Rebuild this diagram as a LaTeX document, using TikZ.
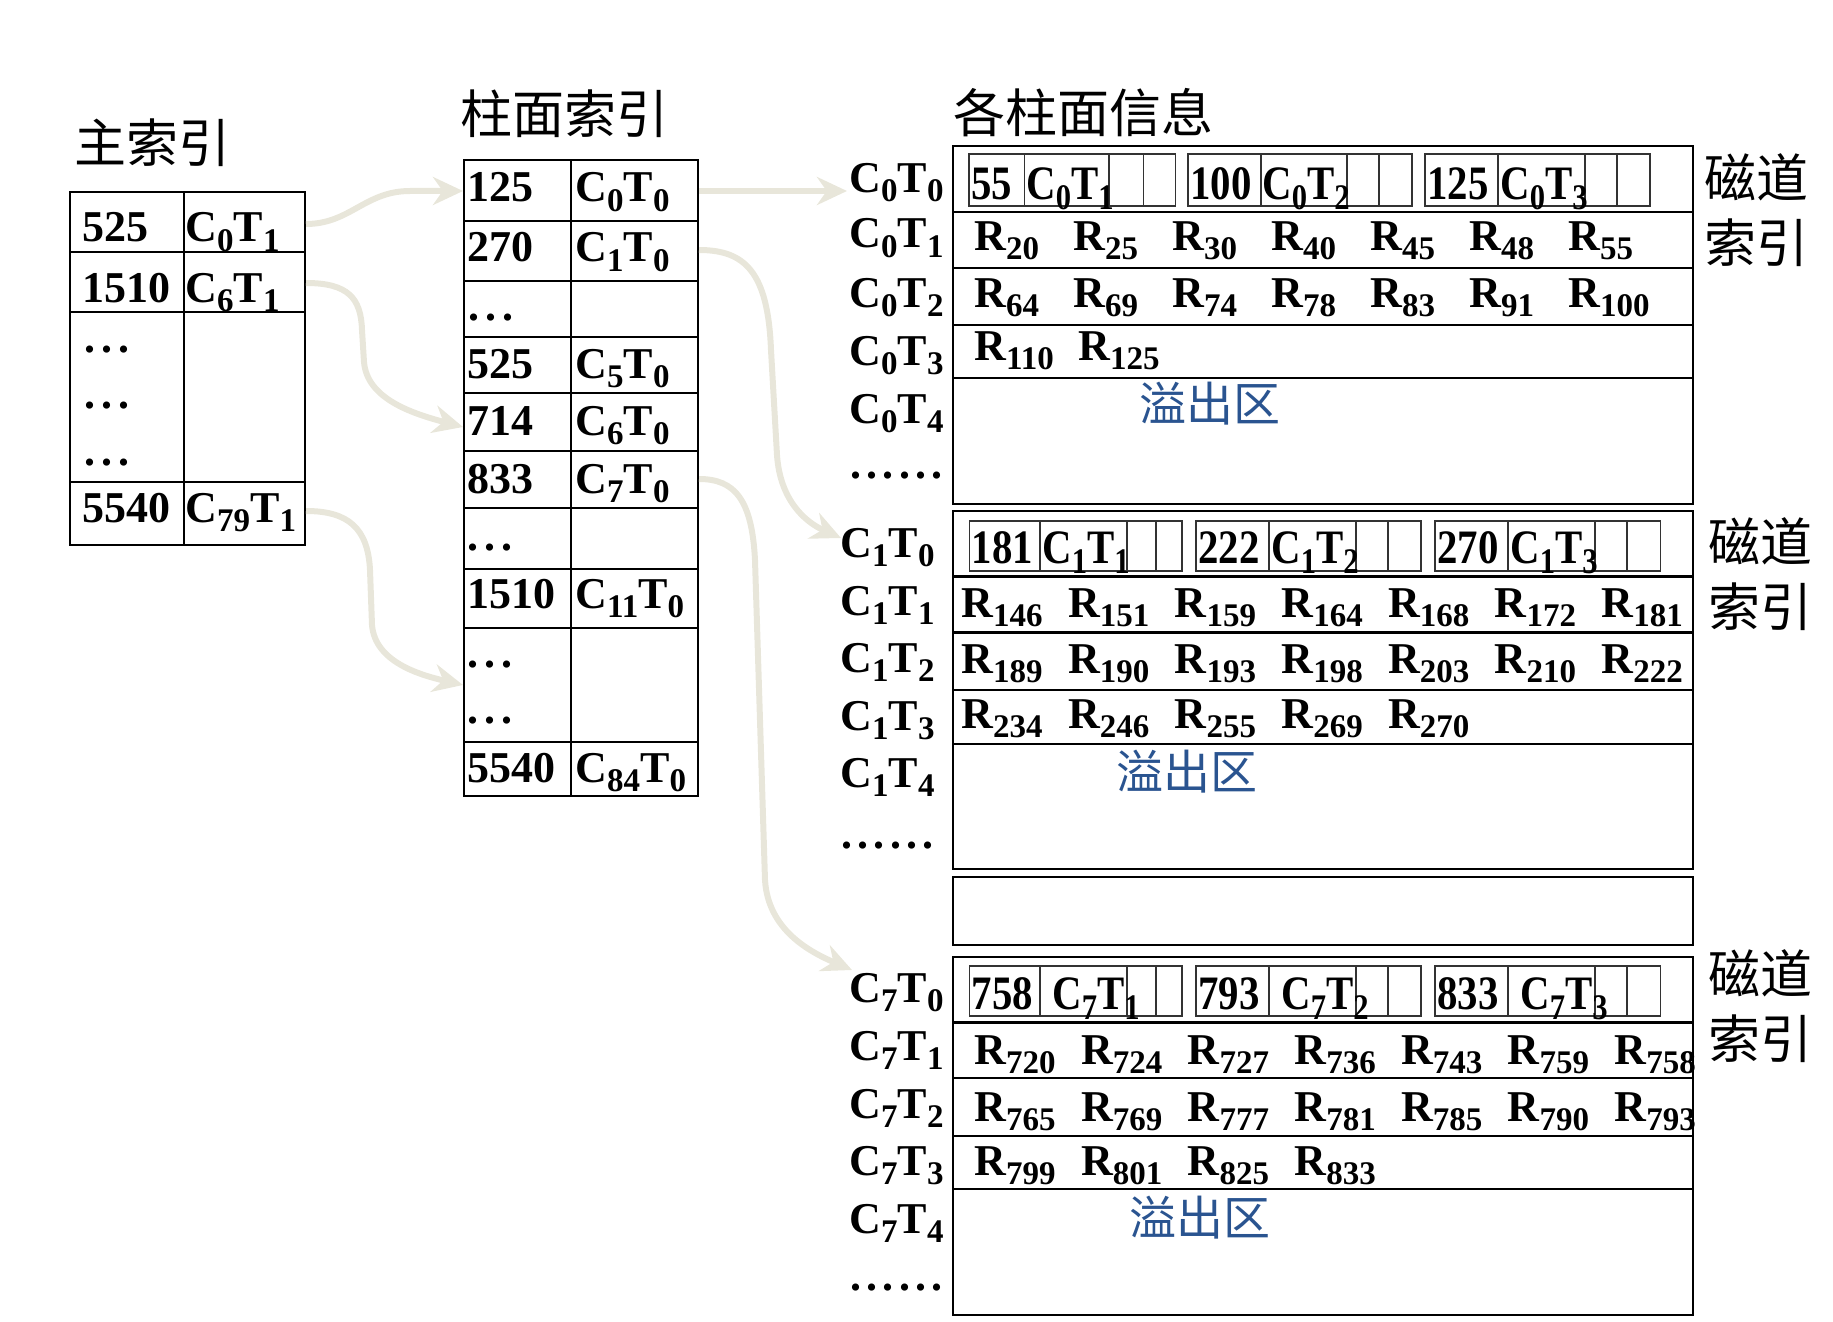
\documentclass[tikz,border=0pt]{standalone}
\usepackage{graphicx}
\usepackage{fontspec}
\setmainfont{Liberation Serif}
\newfontfamily\cjk{Noto Sans CJK SC}
\newfontfamily\narrowfont[FakeStretch=0.85]{Liberation Serif}
\usetikzlibrary{arrows.meta}

\definecolor{linkgray}{HTML}{E8E6DA}
\definecolor{overblue}{HTML}{2A5490}

% subscripts as the slides set them
\newcommand{\lo}[1]{\raisebox{-0.22em}{\scalebox{0.75}{#1}}}
\newcommand{\ct}[2]{C\lo{#1}T\lo{#2}}
\newcommand{\dotrow}{{\addfontfeature{LetterSpace=12}......}}
\newcommand{\dotthree}{{\addfontfeature{LetterSpace=14}...}}

\tikzset{
  txt/.style={anchor=base west, inner sep=0pt, font=\fontsize{22}{24}\selectfont\bfseries},
  boxtxt/.style={anchor=base west, inner sep=0pt, font=\narrowfont\fontsize{24}{26}\selectfont\bfseries},
  headtxt/.style={inner sep=0pt, font=\cjk\fontsize{26}{32.5}\selectfont, align=center},
  overflow/.style={inner sep=0pt, font=\cjk\fontsize{23.5}{26}\selectfont, text=overblue},
  tbl/.style={line width=1pt},
  blk/.style={line width=1.4pt},
  trk/.style={line width=0.9pt, draw=black!80},
  link/.style={draw=linkgray, line width=3pt, -{Stealth[length=15pt,width=14pt]}}
}

\begin{document}
\begin{tikzpicture}[x=0.5pt,y=-0.5pt]
\useasboundingbox (0,0) rectangle (1833,1322);

% Titles
\node[headtxt] (hmain) at (153,143) {主索引};
\node[headtxt] (hcyl) at (564,114) {柱面索引};
\node[headtxt] (hinfo) at (1083,113) {各柱面信息};

% Main index
\draw[tbl] (70,192) rectangle (305,545);
\foreach \y in {252,312,482} \draw[tbl] (70,\y) -- (305,\y);
\draw[tbl] (183.5,192) -- (183.5,545);
\node[txt] (m1) at (82,242) {525};
\node[txt] (m1c) at (185,242) {\ct01};
\node[txt] (m2) at (82,302) {1510};
\node[txt] (m2c) at (185,302) {\ct61};
\node[txt] (md1) at (84,352) {\dotthree};
\node[txt] (md2) at (84,408) {\dotthree};
\node[txt] (md3) at (84,465) {\dotthree};
\node[txt] (m3) at (82,522) {5540};
\node[txt] (m3c) at (185,522) {\ct{79}1};

% Cylinder index
\draw[tbl] (464,160) rectangle (698,796);
\foreach \y in {221,281,337,393,451,508,569,628,742} \draw[tbl] (464,\y) -- (698,\y);
\draw[tbl] (571,160) -- (571,796);
\foreach \b/\k/\c [count=\i] in {202/125/0, 262/270/1, 378/525/5, 435/714/6,
    493/833/7, 608/1510/11, 782/5540/84} {
  \node[txt] (c\i) at (467,\b) {\k};
  \node[txt] (cc\i) at (575,\b) {\ct{\c}0};
}
\node[txt] (cd1) at (468,320) {\dotthree};
\node[txt] (cd2) at (467,550) {\dotthree};
\node[txt] (cd3) at (467,667) {\dotthree};
\node[txt] (cd4) at (467,723) {\dotthree};

% Cylinder 0
\draw[blk] (953,146) rectangle (1693,504);
\foreach \y in {212,268,325,378} \draw[blk] (953,\y) -- (1693,\y);
\foreach \a/\b/\c/\d/\e in {969/1024.5/1109/1143.5/1175.5, 1188/1260.6/1347/1379/1412,
    1425/1498/1585/1617/1650} {
  \draw[trk] (\a,154) rectangle (\e,206);
  \foreach \x in {\b,\c,\d} \draw[trk] (\x,154) -- (\x,206);
}
\node[boxtxt] (k0a) at (971,199) {55};
\node[boxtxt] (k0b) at (1026,199) {\ct01};
\node[boxtxt] (k0c) at (1190,199) {100};
\node[boxtxt] (k0d) at (1262,199) {\ct02};
\node[boxtxt] (k0e) at (1427,199) {125};
\node[boxtxt] (k0f) at (1500,199) {\ct03};
\foreach \s [count=\i from 0] in {20,25,30,40,45,48,55}
  \node[txt] (ra\i) at (974+99*\i,250) {R\lo{\s}};
\foreach \s [count=\i from 0] in {64,69,74,78,83,91,100}
  \node[txt] (rb\i) at (974+99*\i,307) {R\lo{\s}};
\foreach \s [count=\i from 0] in {110,125}
  \node[txt] (rc\i) at (974+104*\i,360) {R\lo{\s}};
\foreach \y [count=\i from 0] in {192,248,307,365,423}
  \node[txt] (la\i) at (849,\y) {\ct0\i};
\node[txt] (lad) at (850,478) {\dotrow};
\node[overflow] (of0) at (1210,404) {溢出区};
\node[headtxt] (ix0) at (1756,210) {磁道\\索引};

% Cylinder 1
\draw[blk] (953,511) rectangle (1693,869);
\foreach \y in {576.7,632.7,690,744} \draw[blk] (953,\y) -- (1693,\y);
\foreach \a/\b/\c/\d/\e in {969.5/1040/1127/1156/1182, 1196/1269/1356/1388/1421,
    1435/1508/1595/1627/1660.5} {
  \draw[trk] (\a,520.7) rectangle (\e,571);
  \foreach \x in {\b,\c,\d} \draw[trk] (\x,520.7) -- (\x,571);
}
\node[boxtxt] (k1a) at (971.5,563) {181};
\node[boxtxt] (k1b) at (1042,563) {\ct11};
\node[boxtxt] (k1c) at (1198,563) {222};
\node[boxtxt] (k1d) at (1271,563) {\ct12};
\node[boxtxt] (k1e) at (1437,563) {270};
\node[boxtxt] (k1f) at (1510,563) {\ct13};
\foreach \s [count=\i from 0] in {146,151,159,164,168,172,181}
  \node[txt] (sa\i) at (961+106.7*\i,617) {R\lo{\s}};
\foreach \s [count=\i from 0] in {189,190,193,198,203,210,222}
  \node[txt] (sb\i) at (961+106.7*\i,673) {R\lo{\s}};
\foreach \s [count=\i from 0] in {234,246,255,269,270}
  \node[txt] (sc\i) at (961+106.7*\i,728) {R\lo{\s}};
\foreach \y [count=\i from 0] in {557,615,672,730,787}
  \node[txt] (lb\i) at (840,\y) {\ct1\i};
\node[txt] (lbd) at (841,848) {\dotrow};
\node[overflow] (of1) at (1187,772) {溢出区};
\node[headtxt] (ix1) at (1760,574) {磁道\\索引};

% Empty cylinder
\draw[blk] (953,877) rectangle (1693,945);

% Cylinder 7
\draw[blk] (953,957) rectangle (1693,1315);
\foreach \y in {1022.7,1078,1136,1189} \draw[blk] (953,\y) -- (1693,\y);
\foreach \a/\b/\c/\d/\e in {969.5/1040/1127/1156/1182, 1196/1269/1356/1388/1421,
    1435/1508/1595/1627/1660.5} {
  \draw[trk] (\a,965.7) rectangle (\e,1016);
  \foreach \x in {\b,\c,\d} \draw[trk] (\x,965.7) -- (\x,1016);
}
\node[boxtxt] (k7a) at (971.5,1009) {758};
\node[boxtxt] (k7b) at (1052,1009) {\ct71};
\node[boxtxt] (k7c) at (1198,1009) {793};
\node[boxtxt] (k7d) at (1281,1009) {\ct72};
\node[boxtxt] (k7e) at (1437,1009) {833};
\node[boxtxt] (k7f) at (1520,1009) {\ct73};
\foreach \s [count=\i from 0] in {720,724,727,736,743,759,758}
  \node[txt] (ta\i) at (974+106.7*\i,1064) {R\lo{\s}};
\foreach \s [count=\i from 0] in {765,769,777,781,785,790,793}
  \node[txt] (tb\i) at (974+106.7*\i,1121) {R\lo{\s}};
\foreach \s [count=\i from 0] in {799,801,825,833}
  \node[txt] (tc\i) at (974+106.7*\i,1175) {R\lo{\s}};
\foreach \y [count=\i from 0] in {1002,1060,1118,1175,1233}
  \node[txt] (lc\i) at (849,\y) {\ct7\i};
\node[txt] (lcd) at (850,1290) {\dotrow};
\node[overflow] (of7) at (1200,1218) {溢出区};
\node[headtxt] (ix7) at (1760,1006) {磁道\\索引};

% Connector ends
\coordinate (mo1) at (306,224);
\coordinate (mo2) at (306,283);
\coordinate (mo3) at (306,511);
\coordinate (ci1) at (463,191);
\coordinate (ci2) at (463,427);
\coordinate (ci3) at (463,685);
\coordinate (co1) at (699,191);
\coordinate (co2) at (699,250);
\coordinate (co3) at (699,479);
\coordinate (ti1) at (847,191);
\coordinate (ti2) at (841,538);
\coordinate (ti3) at (852,970);

% main index -> cylinder index
\draw[link] (mo1) .. controls (350,224) and (365,191) .. (410,191) -- (ci1);
\draw[link] (mo2) .. controls (348,283) and (361,298) .. (362,330) -- (364,362)
  .. controls (367,398) and (410,413) .. (ci2);
\draw[link] (mo3) .. controls (348,511) and (368,528) .. (370,570) -- (372,625)
  .. controls (375,662) and (420,675) .. (ci3);

% cylinder index -> tracks
\draw[link] (co1) -- (ti1);
\draw[link] (co2) .. controls (745,250) and (768,272) .. (771,350) -- (777,455)
  .. controls (780,500) and (805,522) .. (ti2);
\draw[link] (co3) .. controls (735,479) and (752,500) .. (755,560) -- (765,880)
  .. controls (768,930) and (810,952) .. (ti3);

\end{tikzpicture}
\end{document}
